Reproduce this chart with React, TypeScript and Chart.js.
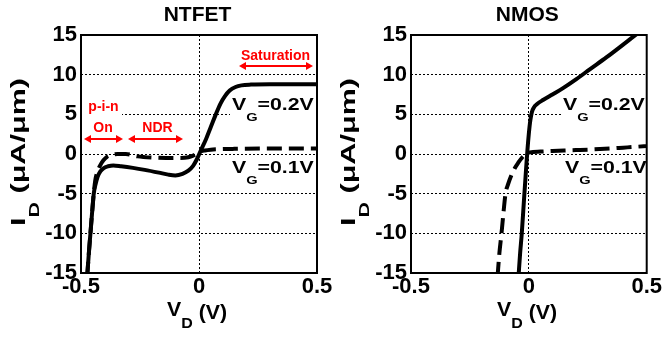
import React, { useEffect, useRef } from "react";
import { Chart, registerables } from "chart.js";

Chart.register(...registerables);

const W = 663;
const H = 337;
const FONT = '"Liberation Sans", Arial, Helvetica, sans-serif';
const RED = "#ff0000";

// ---- data (V_D in volts, I_D in uA/um) ----
const xTicks = [-0.5, 0, 0.5];
const yTicks = [-15, -10, -5, 0, 5, 10, 15];

const ntfetV02X = [-0.474, -0.466, -0.46, -0.453, -0.446, -0.438, -0.43, -0.418, -0.405, -0.385, -0.363, -0.33, -0.28, -0.23, -0.17, -0.13, -0.1, -0.07, -0.045, -0.025, -0.008, 0.01, 0.03, 0.05, 0.07, 0.09, 0.11, 0.13, 0.155, 0.18, 0.22, 0.3, 0.4, 0.5];
const ntfetV02Y = [-15.5, -12.2, -10, -7.4, -5, -3.8, -2.9, -2.2, -1.8, -1.55, -1.45, -1.55, -1.75, -2.0, -2.35, -2.6, -2.7, -2.5, -2.1, -1.5, -0.6, 0.6, 1.9, 3.4, 4.9, 6.3, 7.3, 8.0, 8.45, 8.65, 8.75, 8.8, 8.8, 8.8];

const ntfetV01X = [-0.474, -0.466, -0.46, -0.453, -0.446, -0.44, -0.43, -0.418, -0.405, -0.39, -0.37, -0.345, -0.31, -0.26, -0.2, -0.14, -0.08, -0.045, -0.025, -0.01, 0.005, 0.025, 0.05, 0.08, 0.15, 0.3, 0.5];
const ntfetV01Y = [-15.5, -12.2, -10, -7.4, -5, -3.4, -2.2, -1.4, -0.8, -0.35, -0.1, 0.0, 0.0, -0.3, -0.45, -0.5, -0.5, -0.4, -0.2, 0.05, 0.3, 0.45, 0.55, 0.6, 0.65, 0.7, 0.7];

const nmosV02X = [-0.044, -0.037, -0.03, -0.02, -0.012, -0.006, 0.0, 0.006, 0.013, 0.022, 0.035, 0.06, 0.1, 0.145, 0.2, 0.26, 0.33, 0.435, 0.47];
const nmosV02Y = [-15.5, -12.5, -10, -5.5, -2.0, 0.5, 2.6, 4.2, 5.3, 5.9, 6.3, 6.8, 7.5, 8.3, 9.4, 10.7, 12.2, 14.6, 15.4];

const nmosV01X = [-0.133, -0.125, -0.116, -0.108, -0.099, -0.088, -0.073, -0.058, -0.045, -0.03, -0.018, -0.008, 0.005, 0.05, 0.1, 0.15, 0.2, 0.25, 0.3, 0.35, 0.4, 0.45, 0.5];
const nmosV01Y = [-15.5, -12.5, -10, -7.5, -5, -3.8, -2.6, -1.7, -1.1, -0.5, -0.15, 0.05, 0.2, 0.3, 0.38, 0.45, 0.5, 0.55, 0.62, 0.7, 0.8, 0.9, 1.0];

type Run = { t: string; size: number; dy?: number };

function runsWidth(ctx: CanvasRenderingContext2D, runs: Run[]) {
  let w = 0;
  for (const r of runs) {
    ctx.font = `bold ${r.size}px ${FONT}`;
    w += ctx.measureText(r.t).width;
  }
  return w;
}

function drawRuns(ctx: CanvasRenderingContext2D, runs: Run[], x: number, y: number, sx: number, angle = 0, color = "#000") {
  ctx.save();
  ctx.translate(x, y);
  if (angle) ctx.rotate(angle);
  ctx.scale(sx, 1);
  ctx.fillStyle = color;
  ctx.textAlign = "left";
  ctx.textBaseline = "alphabetic";
  let cx = 0;
  for (const r of runs) {
    ctx.font = `bold ${r.size}px ${FONT}`;
    ctx.fillText(r.t, cx, r.dy || 0);
    cx += ctx.measureText(r.t).width;
  }
  ctx.restore();
}

function drawArrow(ctx: CanvasRenderingContext2D, x1: number, x2: number, y: number) {
  const h = 7, w = 4;
  ctx.save();
  ctx.strokeStyle = RED;
  ctx.fillStyle = RED;
  ctx.lineWidth = 2;
  ctx.beginPath();
  ctx.moveTo(x1 + h - 1, y);
  ctx.lineTo(x2 - h + 1, y);
  ctx.stroke();
  ctx.beginPath();
  ctx.moveTo(x1, y);
  ctx.lineTo(x1 + h, y - w);
  ctx.lineTo(x1 + h, y + w);
  ctx.closePath();
  ctx.fill();
  ctx.beginPath();
  ctx.moveTo(x2, y);
  ctx.lineTo(x2 - h, y - w);
  ctx.lineTo(x2 - h, y + w);
  ctx.closePath();
  ctx.fill();
  ctx.restore();
}

type VgLabel = { v: string; dx: number; base: number };
type RedText = { t: string; dx: number; base: number };
type RedArrow = { x1: number; x2: number; dy: number };
type Box = { x: number; y: number; w: number; h: number };

type PanelCfg = {
  title: string;
  series: { x: number[]; y: number[]; dashed: boolean }[];
  yAxisWidth: number;
  rightPad: number;
  vg: VgLabel[];
  redTexts: RedText[];
  redArrows: RedArrow[];
  whiteBoxes: Box[];
};

const panels: PanelCfg[] = [
  {
    title: "NTFET",
    series: [
      { x: ntfetV02X, y: ntfetV02Y, dashed: false },
      { x: ntfetV01X, y: ntfetV01Y, dashed: true },
    ],
    yAxisWidth: 81,
    rightPad: W - 317,
    vg: [
      { v: "0.2V", dx: 151, base: 75 },
      { v: "0.1V", dx: 151, base: 138 },
    ],
    redTexts: [
      { t: "p-i-n", dx: 22.5, base: 76 },
      { t: "On", dx: 22, base: 97 },
      { t: "NDR", dx: 76.5, base: 97 },
      { t: "Saturation", dx: 194.5, base: 25 },
    ],
    redArrows: [
      { x1: 3, x2: 42, dy: 104 },
      { x1: 47, x2: 102, dy: 104 },
      { x1: 158, x2: 232, dy: 31 },
    ],
    whiteBoxes: [{ x: 1, y: 64, w: 40, h: 36 }],
  },
  {
    title: "NMOS",
    series: [
      { x: nmosV02X, y: nmosV02Y, dashed: false },
      { x: nmosV01X, y: nmosV01Y, dashed: true },
    ],
    yAxisWidth: 411,
    rightPad: W - 647,
    vg: [
      { v: "0.2V", dx: 152, base: 75 },
      { v: "0.1V", dx: 154, base: 138 },
    ],
    redTexts: [],
    redArrows: [],
    whiteBoxes: [],
  },
];

function Panel({ cfg }: { cfg: PanelCfg }) {
  const ref = useRef<HTMLCanvasElement | null>(null);
  useEffect(() => {
    const canvas = ref.current;
    if (!canvas) return;
    const VG_SX = 1.33;
    const vgRuns = (v: string): Run[] => [
      { t: "V", size: 16 },
      { t: "G", size: 11, dy: 11 },
      { t: "=" + v, size: 16 },
    ];
    const deco = {
      id: "deco",
      beforeDatasetsDraw(chart: any) {
        const ctx: CanvasRenderingContext2D = chart.ctx;
        const ca = chart.chartArea;
        ctx.save();
        ctx.beginPath();
        ctx.rect(ca.left, ca.top, ca.right - ca.left, ca.bottom - ca.top);
        ctx.clip();
        ctx.fillStyle = "#fff";
        for (const b of cfg.whiteBoxes) ctx.fillRect(ca.left + b.x, ca.top + b.y, b.w, b.h);
        for (const l of cfg.vg) {
          const runs = vgRuns(l.v);
          const w = runsWidth(ctx, runs) * VG_SX;
          const x = ca.left + l.dx;
          const y = ca.top + l.base;
          ctx.fillStyle = "#fff";
          ctx.fillRect(x - 2, y - 14, w + 4, 27);
          drawRuns(ctx, runs, x, y, VG_SX);
        }
        ctx.fillStyle = RED;
        ctx.font = `bold 14px ${FONT}`;
        ctx.textAlign = "center";
        ctx.textBaseline = "alphabetic";
        for (const t of cfg.redTexts) ctx.fillText(t.t, ca.left + t.dx, ca.top + t.base);
        for (const a of cfg.redArrows) drawArrow(ctx, ca.left + a.x1, ca.left + a.x2, ca.top + a.dy);
        ctx.restore();
      },
      afterDatasetsDraw(chart: any) {
        const ctx: CanvasRenderingContext2D = chart.ctx;
        const ca = chart.chartArea;
        ctx.save();
        ctx.strokeStyle = "#000";
        ctx.lineWidth = 2;
        ctx.strokeRect(ca.left, ca.top, ca.right - ca.left, ca.bottom - ca.top);
        // title
        ctx.fillStyle = "#000";
        ctx.font = `bold 21px ${FONT}`;
        ctx.textAlign = "center";
        ctx.textBaseline = "alphabetic";
        ctx.fillText(cfg.title, (ca.left + ca.right) / 2 - 1.5, 21);
        ctx.restore();
        // x label
        const xRuns: Run[] = [
          { t: "V", size: 20 },
          { t: "D", size: 15, dy: 12 },
          { t: " (V)", size: 20, dy: 3 },
        ];
        const xw = runsWidth(ctx, xRuns);
        drawRuns(ctx, xRuns, ca.left + 86, 316, 60 / xw);
        // y label
        const yRuns: Run[] = [
          { t: "I", size: 20 },
          { t: "D", size: 14, dy: 14 },
          { t: " (\u03bcA/\u03bcm)", size: 20 },
        ];
        const yw = runsWidth(ctx, yRuns);
        drawRuns(ctx, yRuns, ca.left - 56, 226, 148 / yw, -Math.PI / 2);
      },
    };

    const tickFont = { size: 22, weight: "bold" as const, family: FONT };
    const chart = new Chart(canvas, {
      type: "line",
      data: {
        datasets: cfg.series.map((s, i) => ({
          data: s.x.map((x, j) => ({ x, y: s.y[j] })),
          borderColor: "#000",
          borderWidth: 4,
          borderDash: s.dashed ? [15, 7] : [],
          pointRadius: 0,
          cubicInterpolationMode: "monotone" as const,
          fill: false,
          clip: 0,
          order: i,
          borderCapStyle: "butt" as const,
          borderJoinStyle: "round" as const,
        })),
      },
      options: {
        animation: false,
        responsive: false,
        devicePixelRatio: 1,
        events: [],
        layout: { padding: { left: 0, right: cfg.rightPad, top: 35, bottom: 0 } },
        plugins: {
          legend: { display: false },
          tooltip: { enabled: false },
          title: { display: false },
        },
        scales: {
          x: {
            type: "linear",
            min: -0.5,
            max: 0.5,
            afterBuildTicks: (s: any) => {
              s.ticks = xTicks.map((v) => ({ value: v }));
            },
            afterFit: (s: any) => {
              s.height = 64;
            },
            grid: {
              drawTicks: false,
              lineWidth: 1,
              color: (c: any) => (c.tick && c.tick.value === 0 ? "#000" : "rgba(0,0,0,0)"),
            },
            border: { display: false, dash: [2, 2] },
            ticks: {
              font: tickFont,
              color: "#000",
              padding: 1,
              maxRotation: 0,
              autoSkip: false,
              callback: (v: any) => String(v),
            },
          },
          y: {
            type: "linear",
            min: -15,
            max: 15,
            afterBuildTicks: (s: any) => {
              s.ticks = yTicks.map((v) => ({ value: v }));
            },
            afterFit: (s: any) => {
              s.width = cfg.yAxisWidth;
            },
            grid: { drawTicks: false, lineWidth: 1, color: "#000" },
            border: { display: false, dash: [2, 2] },
            ticks: {
              font: tickFont,
              color: "#000",
              padding: 4,
              autoSkip: false,
              callback: (v: any) => String(v),
            },
          },
        },
      },
      plugins: [deco],
    } as any);
    return () => chart.destroy();
  }, [cfg]);
  return (
    <canvas
      ref={ref}
      width={W}
      height={H}
      style={{ position: "absolute", left: 0, top: 0, width: W, height: H }}
    />
  );
}

export default function App() {
  return (
    <div style={{ position: "fixed", left: 0, top: 0, width: W, height: H, background: "#fff", overflow: "hidden" }}>
      {panels.map((p) => (
        <Panel key={p.title} cfg={p} />
      ))}
    </div>
  );
}
